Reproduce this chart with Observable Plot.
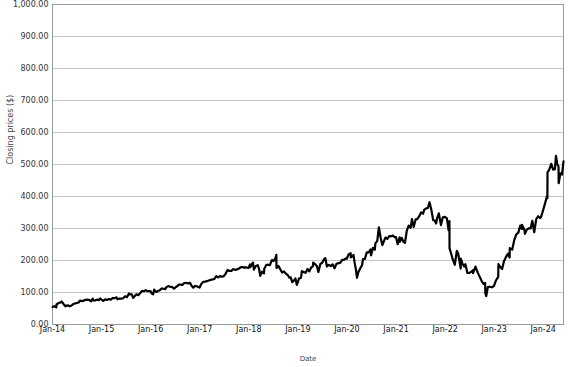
<!DOCTYPE html>
<html>
<head>
<meta charset="utf-8">
<script src="https://cdn.jsdelivr.net/npm/d3@7"></script>
<script src="https://cdn.jsdelivr.net/npm/@observablehq/plot@0.6"></script>
<style>
  html, body { margin: 0; padding: 0; background: #fff; }
</style>
</head>
<body>
<div id="chart"></div>
<script>
// Closing prices, [month-day, close] per year
const y2014 = [["01-02",54.7],["01-15",57.2],["01-29",53.5],["01-31",62.6],["02-14",67.1],["03-03",69.0],["03-10",72.0],["03-24",64.1],["04-07",56.9],["04-15",58.9],["04-29",59.8],["05-08",56.8],["05-20",58.6],["06-02",63.1],["06-16",65.6],["07-01",67.3],["07-15",69.0],["07-24",74.9],["08-08",73.1],["08-22",74.6],["09-04",77.0],["09-18",77.9],["10-01",76.6],["10-15",72.6],["10-28",80.8],["10-29",75.9],["11-12",74.8],["11-26",77.6],["12-10",76.2],["12-22",81.4],["12-31",78.0]];
const y2015 = [["01-14",73.5],["01-28",78.6],["02-11",76.5],["02-25",79.6],["03-11",77.6],["03-25",82.9],["04-08",82.3],["04-22",85.0],["04-30",78.8],["05-14",81.2],["05-28",80.6],["06-11",81.9],["06-25",88.0],["07-09",85.6],["07-24",96.9],["07-31",94.0],["08-14",94.2],["08-24",83.0],["09-04",88.3],["09-17",94.3],["10-01",91.7],["10-15",97.5],["10-29",104.9],["11-12",103.9],["11-25",107.3],["12-09",104.0],["12-22",104.1],["12-31",104.7]];
const y2016 = [["01-08",97.3],["01-20",94.4],["01-28",109.1],["02-05",104.1],["02-11",101.9],["02-24",104.3],["03-09",107.1],["03-22",112.0],["04-05",111.8],["04-19",110.5],["04-28",116.7],["05-11",120.0],["05-25",117.7],["06-08",117.7],["06-24",112.1],["07-08",117.2],["07-22",121.0],["07-28",125.0],["08-11",124.9],["08-25",123.9],["09-08",129.7],["09-22",130.1],["10-06",128.7],["10-20",130.0],["11-03",120.0],["11-14",115.1],["11-28",120.9],["12-09",119.7],["12-22",117.4],["12-30",115.1]];
const y2017 = [["01-12",126.6],["01-26",133.0],["02-09",134.1],["02-23",135.4],["03-09",137.4],["03-23",139.5],["04-06",140.8],["04-20",142.4],["05-04",150.9],["05-18",147.1],["06-01",151.5],["06-15",149.0],["06-29",151.0],["07-13",159.3],["07-27",170.4],["08-10",167.4],["08-24",167.8],["09-07",172.9],["09-21",170.9],["10-05",172.2],["10-19",174.6],["11-02",178.9],["11-16",179.6],["11-30",177.2],["12-08",179.0],["12-21",177.2],["12-29",176.5]];
const y2018 = [["01-10",187.8],["01-12",179.4],["01-26",190.0],["02-01",193.1],["02-08",171.6],["02-22",182.8],["03-09",185.2],["03-19",172.6],["03-27",152.2],["04-10",165.0],["04-24",159.7],["04-26",174.2],["05-10",185.5],["05-24",186.9],["06-07",185.3],["06-21",201.5],["07-05",198.5],["07-19",208.1],["07-25",217.5],["07-26",176.3],["08-09",183.1],["08-23",172.6],["09-06",162.5],["09-20",166.0],["10-04",158.9],["10-18",154.3],["10-30",146.2],["11-08",147.9],["11-20",132.4],["12-04",137.9],["12-14",144.1],["12-24",124.1],["12-31",131.1]];
const y2019 = [["01-10",144.2],["01-24",145.4],["01-31",166.7],["02-14",164.3],["02-28",161.5],["03-14",173.4],["03-27",165.9],["04-10",177.8],["04-24",182.6],["04-25",193.3],["05-09",188.7],["05-22",182.7],["06-03",164.2],["06-17",189.0],["07-01",193.0],["07-15",203.9],["07-25",207.0],["08-05",181.3],["08-19",186.2],["09-03",182.4],["09-17",188.1],["10-01",175.8],["10-15",189.6],["10-31",191.7],["11-14",193.5],["11-27",202.0],["12-11",202.3],["12-23",206.3],["12-31",205.3]];
const y2020 = [["01-14",219.1],["01-29",223.2],["01-30",209.5],["02-07",212.3],["02-19",217.5],["02-28",192.5],["03-09",169.5],["03-16",146.0],["03-26",163.3],["04-09",175.2],["04-23",185.1],["04-30",204.7],["05-14",205.0],["05-28",225.5],["06-11",225.1],["06-24",234.5],["06-29",216.1],["07-13",239.7],["07-27",233.5],["07-31",253.7],["08-14",261.2],["08-26",303.9],["09-08",271.2],["09-21",248.2],["10-02",259.9],["10-14",271.8],["10-28",267.7],["11-11",276.5],["11-25",275.6],["12-09",277.9],["12-21",272.8],["12-31",273.2]];
const y2021 = [["01-13",251.1],["01-27",272.1],["01-29",258.3],["02-12",270.5],["02-26",257.6],["03-08",255.3],["03-22",293.5],["04-05",308.9],["04-19",302.2],["04-29",329.5],["05-12",305.0],["05-26",327.7],["06-09",330.1],["06-23",339.0],["07-07",350.4],["07-21",346.2],["07-29",358.3],["08-12",362.7],["08-26",364.4],["09-07",382.2],["09-21",357.5],["10-04",326.2],["10-15",324.8],["10-26",315.8],["11-01",329.9],["11-15",347.6],["12-01",310.6],["12-15",334.9],["12-31",336.4]];
const y2022 = [["01-14",331.9],["01-27",294.6],["02-02",323.0],["02-03",237.8],["02-15",221.0],["02-24",207.6],["03-14",186.6],["03-29",229.9],["04-08",222.3],["04-27",174.9],["04-28",205.7],["05-11",188.7],["05-24",181.3],["06-01",188.6],["06-16",160.9],["06-30",161.3],["07-15",164.7],["07-27",169.6],["07-28",160.7],["08-15",180.9],["08-31",162.9],["09-15",149.6],["09-30",135.7],["10-14",126.8],["10-26",129.8],["10-27",97.9],["11-03",88.9],["11-15",117.1],["11-30",118.1],["12-15",116.2],["12-30",120.3]];
const y2023 = [["01-13",136.7],["01-31",148.9],["02-02",188.8],["02-15",179.8],["03-01",173.4],["03-15",197.8],["03-31",211.9],["04-14",221.5],["04-26",209.4],["04-27",238.6],["05-15",233.8],["05-31",264.7],["06-15",281.8],["06-30",287.0],["07-14",308.9],["07-26",298.6],["07-27",311.7],["08-15",294.3],["08-18",283.3],["09-01",296.4],["09-15",300.3],["09-29",300.2],["10-12",324.2],["10-26",288.4],["11-10",328.8],["11-24",338.2],["12-08",332.8],["12-15",334.9],["12-29",353.9]];
const y2024 = [["01-12",374.5],["01-29",401.0],["02-01",394.8],["02-02",474.9],["02-15",484.0],["03-01",502.3],["03-15",484.1],["03-28",485.6],["04-05",527.3],["04-15",500.2],["04-24",493.5],["04-25",441.4],["05-08",472.6],["05-20",468.8],["05-31",510.0]];

const years = [[2014,y2014],[2015,y2015],[2016,y2016],[2017,y2017],[2018,y2018],[2019,y2019],[2020,y2020],[2021,y2021],[2022,y2022],[2023,y2023],[2024,y2024]];
const yTicks = [0,100,200,300,400,500,600,700,800,900,1000];
const xTickYears = [2014,2015,2016,2017,2018,2019,2020,2021,2022,2023,2024];

const data = [];
for (const [yr, rows] of years) {
  for (const [md, close] of rows) data.push({date: new Date(`${yr}-${md}T00:00:00Z`), close});
}
const xTicks = xTickYears.map(y => new Date(Date.UTC(y, 0, 1)));

const chart = Plot.plot({
  width: 577,
  height: 367,
  marginLeft: 52,
  marginRight: 14,
  marginTop: 4,
  marginBottom: 43,
  style: {fontFamily: "DejaVu Sans", fontSize: "8px", color: "#333", background: "#fff"},
  x: {type: "utc", domain: [new Date(Date.UTC(2014,0,1)), new Date(Date.UTC(2024,4,31))]},
  y: {domain: [0, 1000]},
  marks: [
    Plot.gridY(yTicks, {stroke: "#c4c4c4", strokeOpacity: 1}),
    Plot.frame({stroke: "#9a9a9a"}),
    Plot.axisY(yTicks, {tickSize: 0, tickPadding: 4, tickFormat: d3.format(",.2f"), label: null}),
    Plot.axisX(xTicks, {tickSize: 0, tickPadding: 2, tickFormat: d3.utcFormat("%b-%y"), label: null, fill: "#111", fontWeight: "normal"}),
    Plot.text(["Closing prices ($)"], {frameAnchor: "left", dx: -42, rotate: -90, fontSize: 8, fill: "#444"}),
    Plot.text(["Date"], {frameAnchor: "bottom", dy: 36, fontSize: 7, fill: "#444"}),
    Plot.line(data, {x: "date", y: "close", stroke: "#000", strokeWidth: 2.2, strokeLinejoin: "round"})
  ]
});
document.getElementById("chart").appendChild(chart);
</script>
</body>
</html>
